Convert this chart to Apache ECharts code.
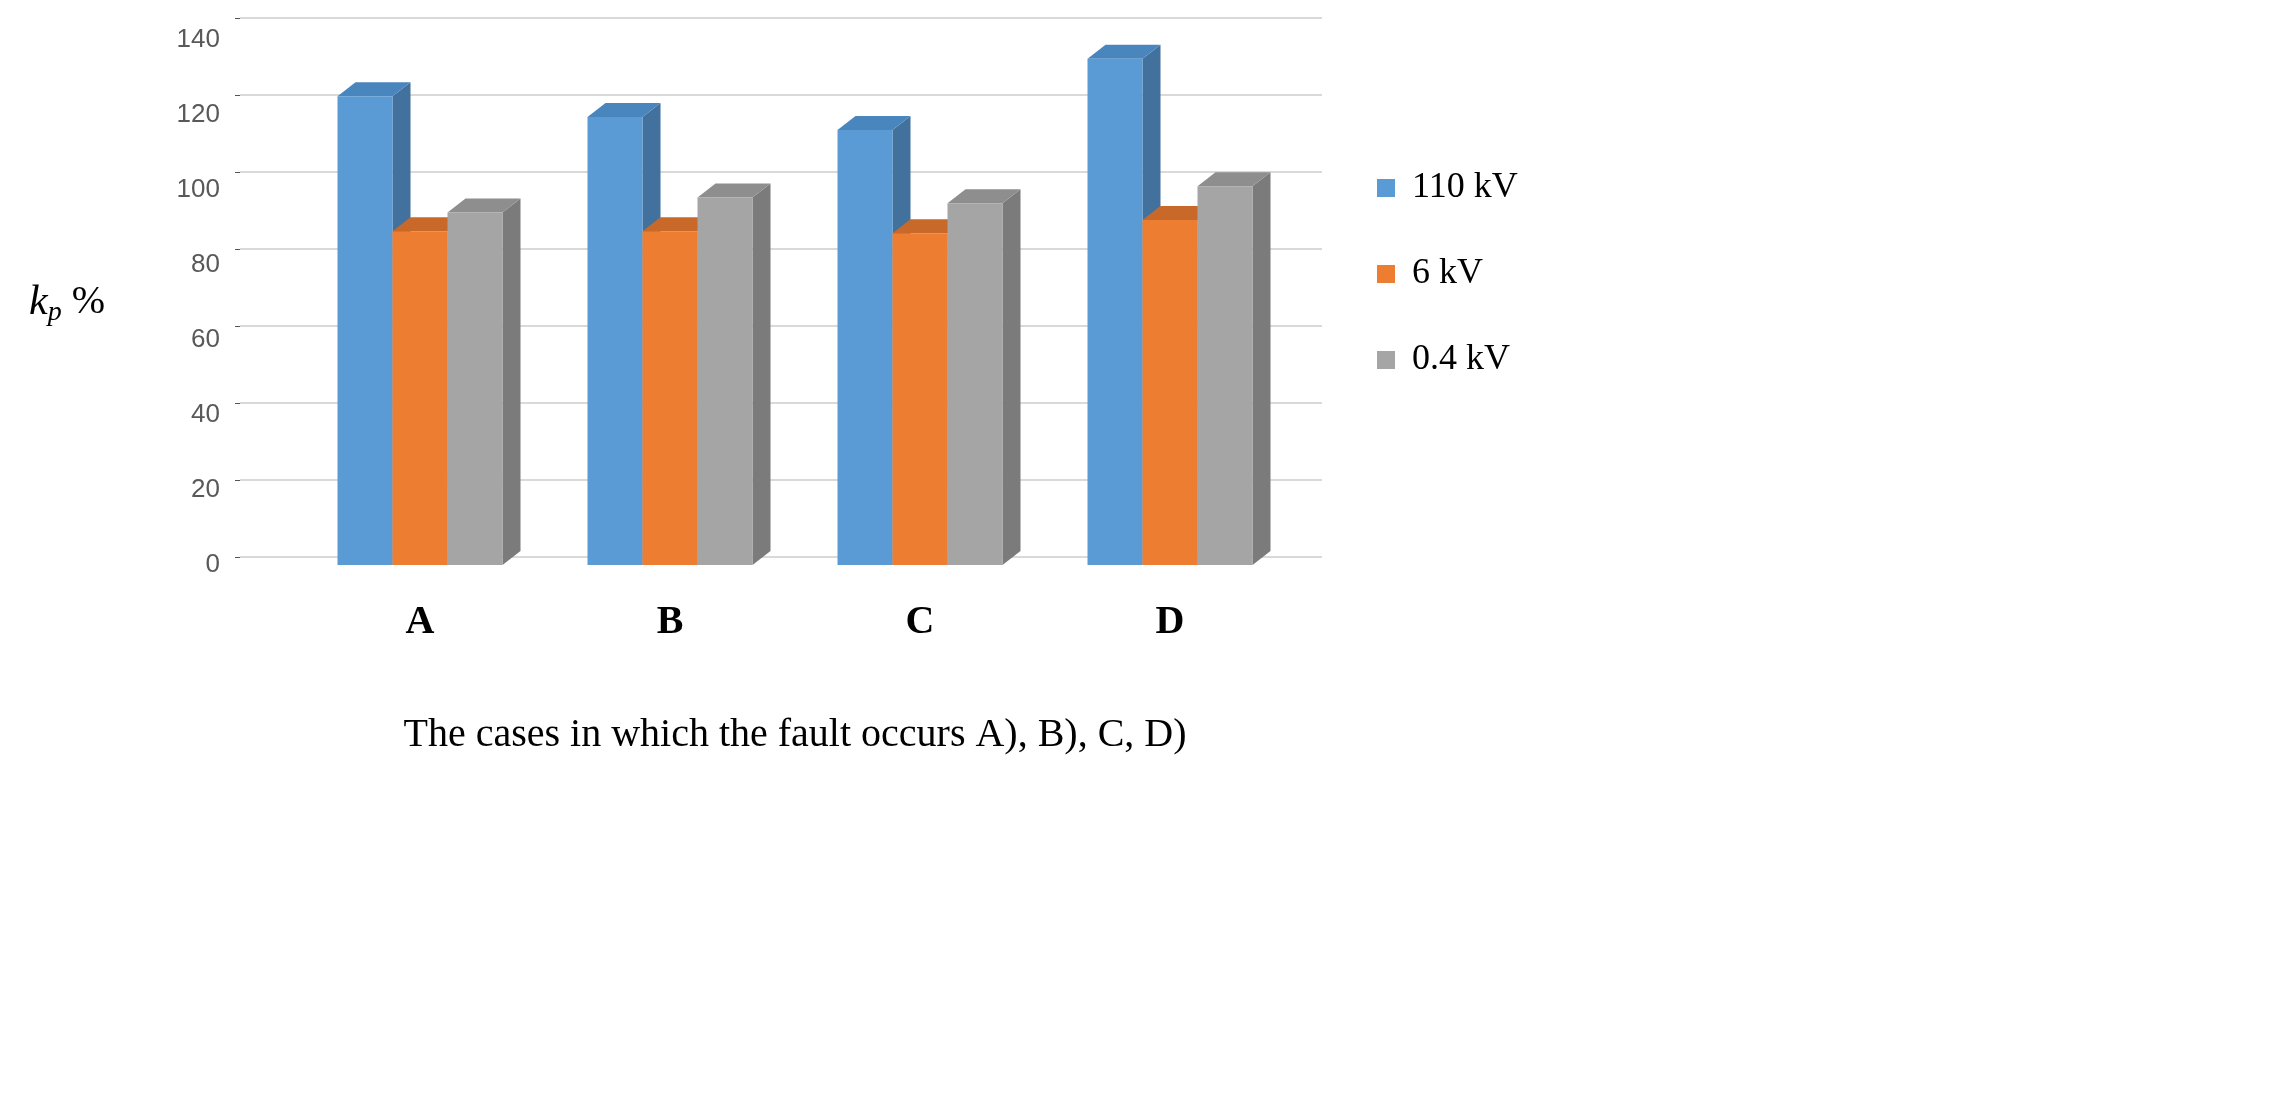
<!DOCTYPE html><html><head><meta charset="utf-8">
<script src="https://cdn.jsdelivr.net/npm/echarts@6/dist/echarts.min.js"></script>
<style>html,body{margin:0;background:#fff}#c{width:2282px;height:1113px}</style></head><body><div id="c"></div>
<script>
const categories=['A','B','C','D'];
const s110=[125,119.5,116,135];
const s6=[89,89,88.5,92];
const s04=[94,98,96.5,101];
const yTicks=[0,20,40,60,80,100,120,140];
const names=['110 kV','6 kV','0.4 kV'];
const front=['#5B9BD5','#ED7D31','#A5A5A5'];
const side=['#41719C','#AE5A21','#7B7B7B'];
const top_=['#4A86BE','#C8692A','#8E8E8E'];
const DX=18,DY=14;
function mk(idx,data){
 return {type:'custom',name:names[idx],xAxisIndex:0,yAxisIndex:0,z:10+idx,
  itemStyle:{color:front[idx]},
  data:data.map((v,i)=>[i,v]),
  renderItem:(p,api)=>{
   const c=api.coord([api.value(0),api.value(1)]);
   const b=api.coord([api.value(0),0]);
   const w=api.size([1,0])[0]*0.22;
   const x0=c[0]-1.5*w+idx*w, x1=x0+w, yt=c[1], yb=b[1];
   return {type:'group',children:[
    {type:'polygon',shape:{points:[[x1,yt],[x1+DX,yt-DY],[x1+DX,yb-DY],[x1,yb]]},style:{fill:side[idx]}},
    {type:'polygon',shape:{points:[[x0,yt],[x0+DX,yt-DY],[x1+DX,yt-DY],[x1,yt]]},style:{fill:top_[idx]}},
    {type:'rect',shape:{x:x0,y:yt,width:w,height:yb-yt},style:{fill:front[idx]}}
   ]};
  }};
}
const ch=echarts.init(document.getElementById('c'));
ch.setOption({
 animation:false,
 grid:[{left:295,right:987,top:40,bottom:548},{left:240,right:960,top:18,bottom:556}],
 xAxis:[{type:'category',data:categories,gridIndex:0,axisLine:{show:false},axisTick:{show:false},
   axisLabel:{fontFamily:'Liberation Serif',fontWeight:'bold',fontSize:40,color:'#000',margin:38},
   name:'The cases in which the fault occurs A), B), C, D)',nameLocation:'middle',nameGap:150,
   nameTextStyle:{fontFamily:'Liberation Serif',fontSize:40,color:'#000'}},
  {type:'value',gridIndex:1,show:false}],
 yAxis:[{type:'value',gridIndex:0,min:0,max:140,interval:20,splitLine:{show:false},axisLine:{show:false},
   axisLabel:{fontSize:26,color:'#595959',margin:75,fontFamily:'Liberation Sans'},
   name:'{i|k}{s|p} %',nameLocation:'middle',nameGap:190,nameRotate:0,
   nameTextStyle:{fontSize:40,color:'#000',fontFamily:'Liberation Serif',
    rich:{i:{fontStyle:'italic',fontSize:42,fontFamily:'Liberation Serif'},s:{fontStyle:'italic',fontSize:28,verticalAlign:'bottom',padding:[20,0,0,0],fontFamily:'Liberation Serif'}}}},
  {type:'value',gridIndex:1,min:0,max:140,interval:20,axisLabel:{show:false},axisLine:{show:false},
   splitLine:{lineStyle:{color:'#d9d9d9',width:2}}}],
 legend:{orient:'vertical',left:1372,top:165,itemGap:50,itemWidth:18,itemHeight:18,icon:'rect',
   textStyle:{fontFamily:'Liberation Serif',fontSize:36,color:'#000',padding:[0,0,0,12]},data:names},
 series:[mk(0,s110),mk(1,s6),mk(2,s04)]
});
</script></body></html>
